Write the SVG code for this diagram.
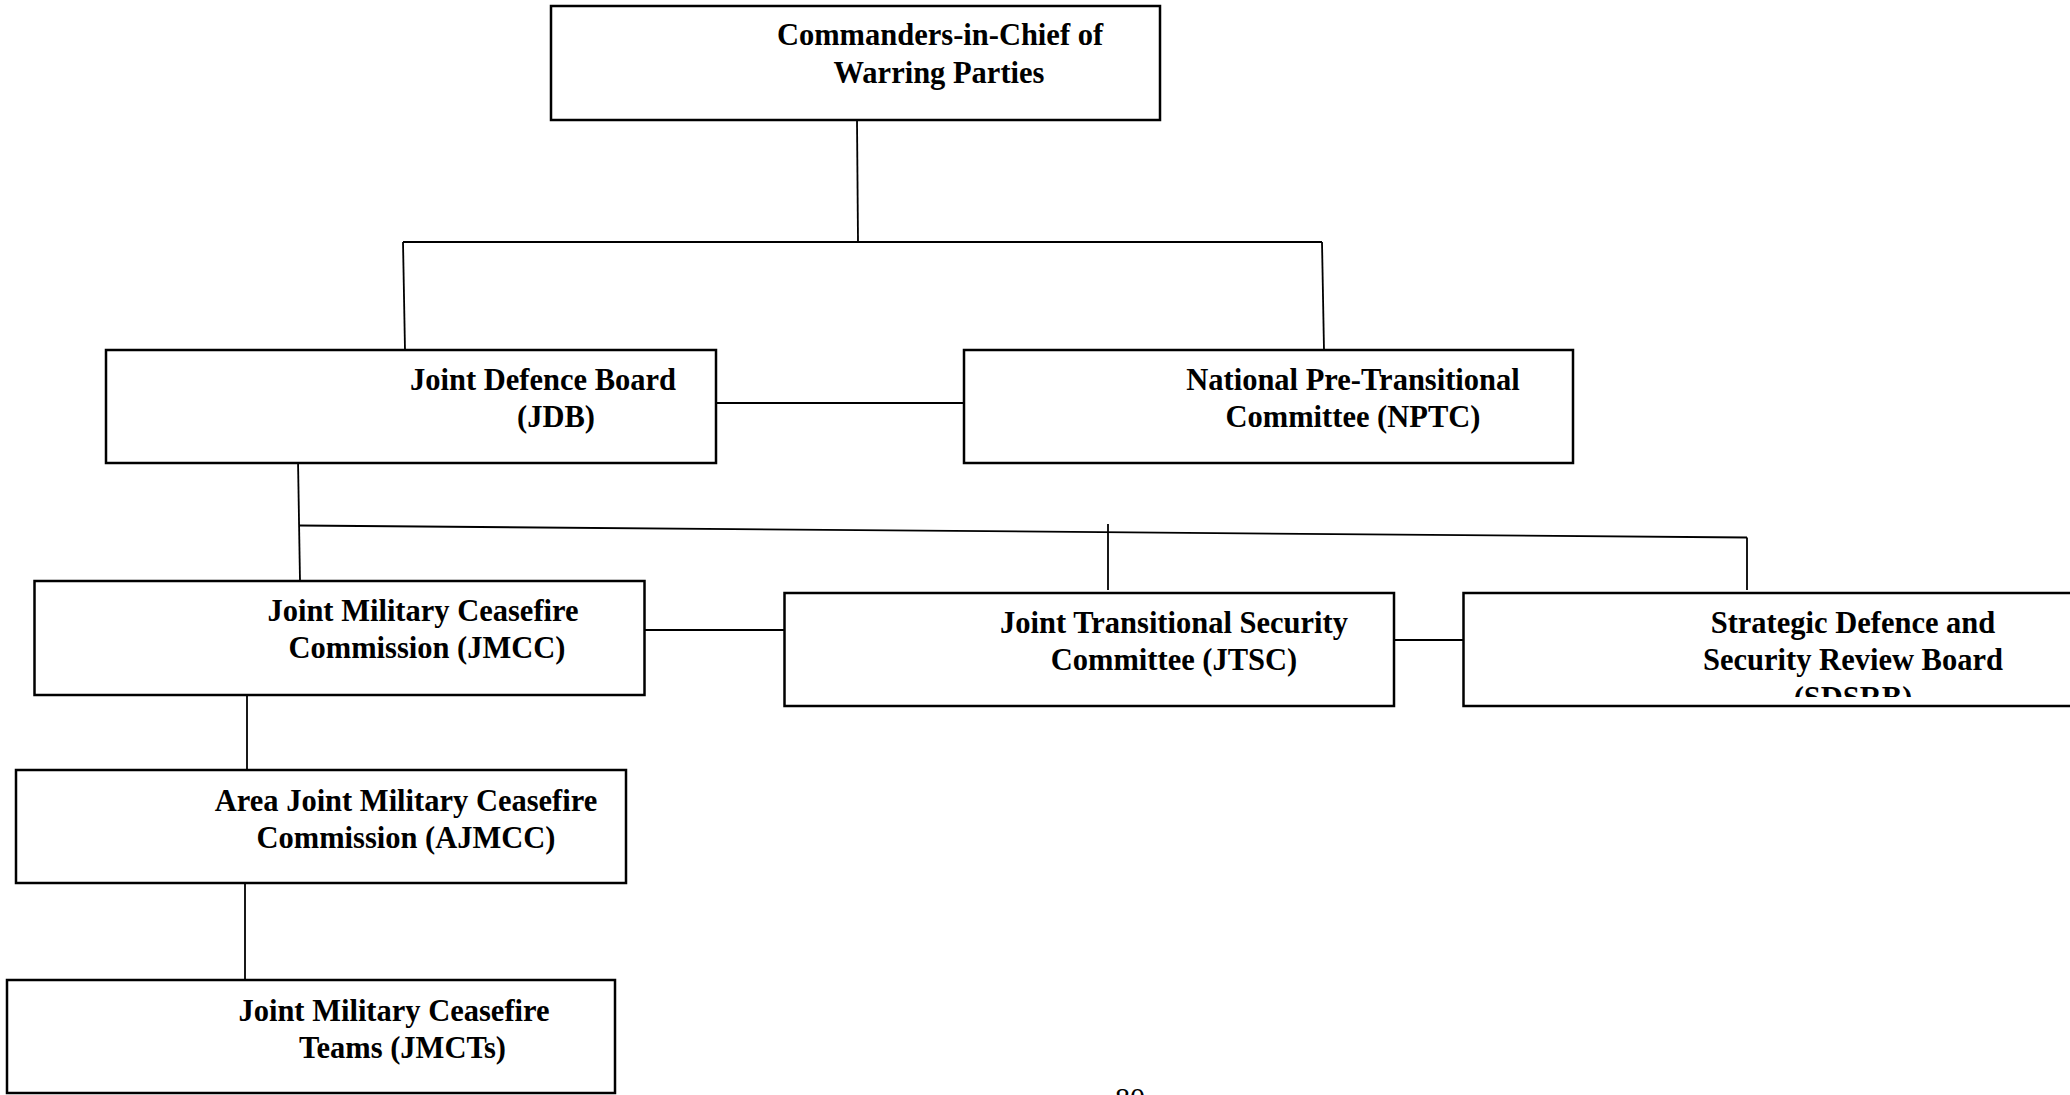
<svg xmlns="http://www.w3.org/2000/svg" width="2070" height="1095" viewBox="0 0 2070 1095">
<style>
.box{fill:#fff;stroke:#000;stroke-width:2.5}
.t{font-family:"Liberation Serif","Times New Roman",serif;font-weight:bold;font-size:30.5px;fill:#000;text-anchor:middle}
.pg{font-family:"Liberation Serif","Times New Roman",serif;font-size:30px;fill:#000;text-anchor:middle}
.c{stroke:#000;stroke-width:1.8;fill:none}
</style>
<defs>
<clipPath id="clipSDSRB"><rect x="1464" y="594" width="610" height="103"/></clipPath>
</defs>
<rect width="2070" height="1095" fill="#fff"/>
<g id="connectors">
<line class="c" x1="857" y1="120" x2="858" y2="242"/>
<line class="c" x1="403" y1="242" x2="1322" y2="242"/>
<line class="c" x1="403" y1="242" x2="405" y2="350"/>
<line class="c" x1="1322" y1="242" x2="1324" y2="350"/>
<line class="c" x1="716" y1="403" x2="964" y2="403"/>
<line class="c" x1="298" y1="460" x2="300" y2="581"/>
<line class="c" x1="299.5" y1="525.5" x2="1747" y2="537.5" stroke-width="2.5"/>
<line class="c" x1="1108" y1="524" x2="1108" y2="590"/>
<line class="c" x1="1747" y1="537.5" x2="1747" y2="590"/>
<line class="c" x1="644" y1="630" x2="784" y2="630"/>
<line class="c" x1="1394" y1="640" x2="1463" y2="640"/>
<line class="c" x1="247" y1="695" x2="247" y2="770"/>
<line class="c" x1="245" y1="883" x2="245" y2="980"/>
</g>
<g id="node-cic">
<rect class="box" x="551" y="6" width="609" height="114"/>
<text class="t" x="940" y="45">Commanders-in-Chief of</text>
<text class="t" x="939" y="83">Warring Parties</text>
</g>
<g id="node-jdb">
<rect class="box" x="106" y="350" width="610" height="113"/>
<text class="t" x="543" y="389.5">Joint Defence Board</text>
<text class="t" x="556" y="427">(JDB)</text>
</g>
<g id="node-nptc">
<rect class="box" x="964" y="350" width="609" height="113"/>
<text class="t" x="1353" y="389.5">National Pre-Transitional</text>
<text class="t" x="1353" y="427">Committee (NPTC)</text>
</g>
<g id="node-jmcc">
<rect class="box" x="34.5" y="581" width="610" height="114"/>
<text class="t" x="423" y="620.5">Joint Military Ceasefire</text>
<text class="t" x="427" y="658">Commission (JMCC)</text>
</g>
<g id="node-jtsc">
<rect class="box" x="784.5" y="593" width="609.5" height="113"/>
<text class="t" x="1174" y="632.5">Joint Transitional Security</text>
<text class="t" x="1174" y="670">Committee (JTSC)</text>
</g>
<g id="node-sdsrb">
<rect class="box" x="1463.5" y="593" width="615" height="113"/>
<text class="t" x="1853" y="632.5">Strategic Defence and</text>
<text class="t" x="1853" y="670">Security Review Board</text>
<text class="t" x="1853" y="707.5" clip-path="url(#clipSDSRB)">(SDSRB)</text>
</g>
<g id="node-ajmcc">
<rect class="box" x="16" y="770" width="610" height="113"/>
<text class="t" x="406" y="810.5">Area Joint Military Ceasefire</text>
<text class="t" x="406" y="848">Commission (AJMCC)</text>
</g>
<g id="node-jmcts">
<rect class="box" x="7" y="980" width="608" height="113"/>
<text class="t" x="394" y="1020.5">Joint Military Ceasefire</text>
<text class="t" x="402.5" y="1058">Teams (JMCTs)</text>
</g>
<text class="pg" x="1130" y="1108">80</text>
</svg>
